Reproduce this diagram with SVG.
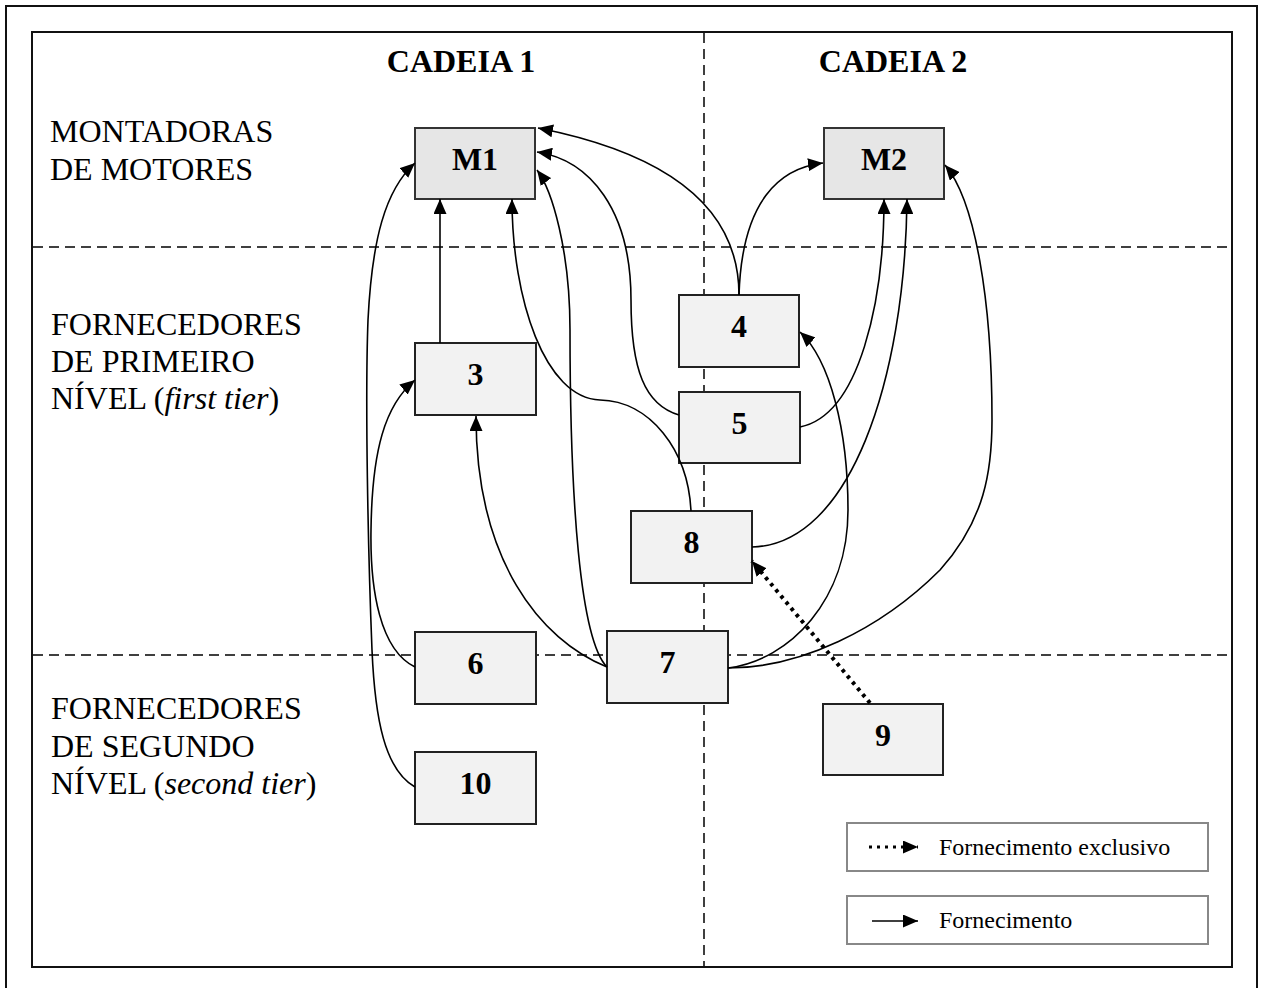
<svg xmlns="http://www.w3.org/2000/svg" width="1264" height="988" viewBox="0 0 1264 988">
<defs>
<marker id="arr" markerUnits="userSpaceOnUse" markerWidth="16" markerHeight="13" refX="15" refY="6.5" orient="auto">
<path d="M0,0 L15,6.5 L0,13 z" fill="#000"/>
</marker>
<style>
.frame{fill:none;stroke:#111;stroke-width:2}
.grid{fill:none;stroke:#000;stroke-width:1.5;stroke-dasharray:10 6}
.node{fill:#f2f2f2;stroke:#222;stroke-width:2}
.mnode{fill:#e6e6e6;stroke:#333;stroke-width:2}
.nl{font-family:"Liberation Serif","Times New Roman",serif;font-weight:bold;font-size:32px;text-anchor:middle;fill:#000}
.lbl{font-family:"Liberation Serif","Times New Roman",serif;font-size:32px;fill:#000}
.ttl{font-family:"Liberation Serif","Times New Roman",serif;font-weight:bold;font-size:32px;text-anchor:middle;fill:#000}
.edge{fill:none;stroke:#000;stroke-width:1.6;marker-end:url(#arr)}
.dot{fill:none;stroke:#000;stroke-width:4;stroke-dasharray:3.5 4.5;marker-end:url(#arr)}
.leg{fill:#fff;stroke:#888;stroke-width:2}
.legt{font-family:"Liberation Serif","Times New Roman",serif;font-size:24px;fill:#000}
</style>
</defs>
<rect x="6" y="6" width="1251" height="995" class="frame"/>
<rect x="32" y="32" width="1200" height="935" class="frame"/>
<g id="grid">
<line x1="704" y1="33" x2="704" y2="966" class="grid"/>
<line x1="33" y1="247" x2="1231" y2="247" class="grid"/>
<line x1="33" y1="655" x2="1231" y2="655" class="grid"/>
</g>
<g id="titles">
<text x="461" y="72" class="ttl">CADEIA 1</text>
<text x="893" y="72" class="ttl">CADEIA 2</text>
</g>
<g id="row-labels">
<text x="50" y="142" class="lbl">MONTADORAS</text>
<text x="50" y="180" class="lbl">DE MOTORES</text>
<text x="51" y="335" class="lbl">FORNECEDORES</text>
<text x="51" y="372" class="lbl">DE PRIMEIRO</text>
<text x="51" y="409" class="lbl">NÍVEL (<tspan font-style="italic">first tier</tspan>)</text>
<text x="51" y="719" class="lbl">FORNECEDORES</text>
<text x="51" y="757" class="lbl">DE SEGUNDO</text>
<text x="51" y="794" class="lbl">NÍVEL (<tspan font-style="italic">second tier</tspan>)</text>
</g>
<g id="node-M1"><rect x="415" y="128" width="120" height="71" class="mnode"/><text x="475" y="170" class="nl">M1</text></g>
<g id="node-M2"><rect x="824" y="128" width="120" height="71" class="mnode"/><text x="884" y="170" class="nl">M2</text></g>
<g id="node-3"><rect x="415" y="343" width="121" height="72" class="node"/><text x="475.5" y="385" class="nl">3</text></g>
<g id="node-4"><rect x="679" y="295" width="120" height="72" class="node"/><text x="739" y="337" class="nl">4</text></g>
<g id="node-5"><rect x="679" y="392" width="121" height="71" class="node"/><text x="739.5" y="434" class="nl">5</text></g>
<g id="node-8"><rect x="631" y="511" width="121" height="72" class="node"/><text x="691.5" y="553" class="nl">8</text></g>
<g id="node-6"><rect x="415" y="632" width="121" height="72" class="node"/><text x="475.5" y="674" class="nl">6</text></g>
<g id="node-7"><rect x="607" y="631" width="121" height="72" class="node"/><text x="667.5" y="673" class="nl">7</text></g>
<g id="node-9"><rect x="823" y="704" width="120" height="71" class="node"/><text x="883" y="746" class="nl">9</text></g>
<g id="node-10"><rect x="415" y="752" width="121" height="72" class="node"/><text x="475.5" y="794" class="nl">10</text></g>
<g id="connectors">
<path d="M440 343 L440 199" class="edge"/>
<path d="M415 787 C385 770 375 720 372 650 C368 550 365 400 368 320 C372 240 385 190 415 163" class="edge"/>
<path d="M415 667 C380 650 370 590 371 530 C372 450 385 405 415 380" class="edge"/>
<path d="M607 667 C540 640 476 560 476 416" class="edge"/>
<path d="M607 667 C580 640 570 500 570 330 C570 250 552 190 537 170" class="edge"/>
<path d="M691 511 C688 450 650 401 600 400 C545 398 512 300 512 199" class="edge"/>
<path d="M679 415 C645 405 631 370 631 300 C631 210 590 160 537 152" class="edge"/>
<path d="M739 295 C739 230 700 160 538 128" class="edge"/>
<path d="M739 295 C742 200 780 168 823 163" class="edge"/>
<path d="M800 427 C860 415 884 300 884 199" class="edge"/>
<path d="M752 547 C850 545 905 380 907 199" class="edge"/>
<path d="M728 668 C800 668 880 630 940 570 C985 520 992 470 992 420 C992 300 975 200 945 165" class="edge"/>
<path d="M728 668 C790 660 848 600 848 510 C848 430 830 360 800 332" class="edge"/>
<path d="M870 703 L752 561" class="dot"/>
</g>
<g id="legend">
<rect x="847" y="823" width="361" height="48" class="leg"/>
<path d="M869 847 L918 847" class="dot" style="stroke-width:3;stroke-dasharray:3 5"/>
<text x="939" y="855" class="legt">Fornecimento exclusivo</text>
<rect x="847" y="896" width="361" height="48" class="leg"/>
<path d="M872 921 L918 921" class="edge"/>
<text x="939" y="928" class="legt">Fornecimento</text>
</g>
</svg>
